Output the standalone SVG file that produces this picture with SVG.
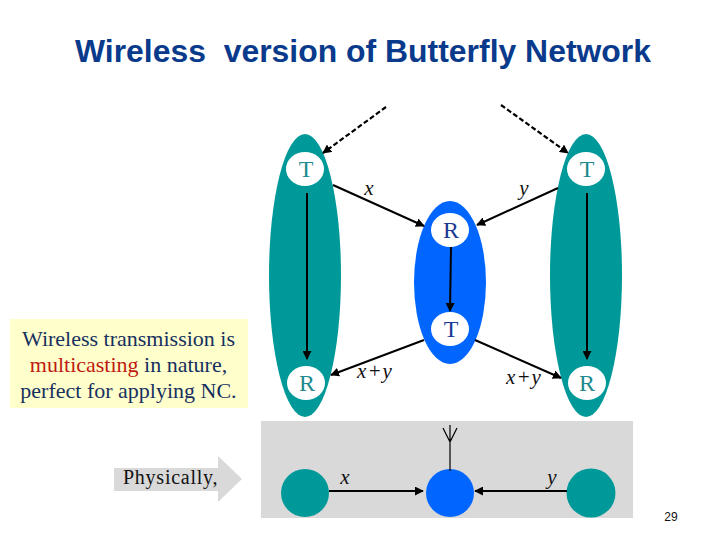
<svg xmlns="http://www.w3.org/2000/svg" width="720" height="540" viewBox="0 0 720 540">
<style>
.teal{fill:#009999}
.blue{fill:#0066ff}
.hole{fill:#fff}
.ser{font-family:"Liberation Serif","Times New Roman",serif}
.lab{font-size:24px;text-anchor:middle}
.tt{fill:#1f8a8f}
.tb{fill:#1a3a94}
.it{font-size:21px;font-style:italic;fill:#111;text-anchor:middle}
.c{stroke:#000;stroke-width:2;fill:none}
.d{stroke-width:2.2;stroke-dasharray:5 2.5}
.note{font-size:22px;fill:#17305f;text-anchor:middle}
</style>
<defs>
<marker id="a" viewBox="0 0 10 10" refX="9" refY="5" markerWidth="9" markerHeight="9" markerUnits="userSpaceOnUse" orient="auto"><path d="M0 0L10 5L0 10Z" fill="#000"/></marker>
</defs>
<rect width="720" height="540" fill="#fff"/>
<text x="363" y="62" font-family="'Liberation Sans',Arial,sans-serif" font-weight="bold" font-size="32" fill="#0a3a8c" text-anchor="middle" xml:space="preserve" textLength="576" lengthAdjust="spacingAndGlyphs">Wireless  version of Butterfly Network</text>
<g id="physical-bg"><rect x="261" y="421" width="372" height="97" fill="#d9d9d9"/></g>
<g id="note"><rect x="10" y="319" width="238" height="89" fill="#ffffcc"/>
<text class="ser note" x="128.500" y="346">Wireless transmission is</text>
<text class="ser note" x="128.500" y="372"><tspan fill="#bf1a10">multicasting</tspan> in nature,</text>
<text class="ser note" x="128.500" y="398">perfect for applying NC.</text></g>
<g id="physically"><path d="M114 468H218V456L242 479L218 502V491H114Z" fill="#d9d9d9"/>
<text class="ser" x="123" y="484" font-size="20" fill="#111" letter-spacing="0.75">Physically,</text></g>
<g id="left-group"><ellipse class="teal" cx="305" cy="275.5" rx="36" ry="141.5"/>
<ellipse class="hole" cx="305" cy="169" rx="19" ry="17"/><text class="ser lab tt" x="306" y="177">T</text>
<ellipse class="hole" cx="306" cy="383" rx="19" ry="17"/><text class="ser lab tt" x="307" y="391">R</text></g>
<g id="right-group"><ellipse class="teal" cx="586" cy="275.5" rx="36" ry="141.5"/>
<ellipse class="hole" cx="586" cy="169" rx="19" ry="17"/><text class="ser lab tt" x="587" y="177">T</text>
<ellipse class="hole" cx="587" cy="383" rx="19" ry="17"/><text class="ser lab tt" x="587" y="391">R</text></g>
<g id="mid-group"><ellipse class="blue" cx="450" cy="282.5" rx="36" ry="81.5"/>
<ellipse class="hole" cx="450" cy="230" rx="19" ry="17"/><text class="ser lab tb" x="451" y="238">R</text>
<ellipse class="hole" cx="450" cy="329" rx="19" ry="17"/><text class="ser lab tb" x="451" y="337">T</text></g>
<g id="bottom-left"><circle class="teal" cx="305" cy="493" r="24"/></g>
<g id="bottom-mid"><circle class="blue" cx="450" cy="493" r="24"/></g>
<g id="bottom-right"><circle class="teal" cx="591" cy="493" r="24.500"/></g>
<g id="connectors">
<path class="c d" d="M386 107L323 153" marker-end="url(#a)"/>
<path class="c d" d="M501 105L568 153" marker-end="url(#a)"/>
<path class="c" d="M333 185L424 226" marker-end="url(#a)"/>
<path class="c" d="M558 188L477 225" marker-end="url(#a)"/>
<path class="c" d="M307 193V359" marker-end="url(#a)"/>
<path class="c" d="M587 193V359" marker-end="url(#a)"/>
<path class="c" d="M451 247L450 311" marker-end="url(#a)"/>
<path class="c" d="M424 340L331 375" marker-end="url(#a)"/>
<path class="c" d="M475 340L561 378" marker-end="url(#a)"/>
<path class="c" d="M329 491H423" marker-end="url(#a)"/>
<path class="c" d="M567 491H475" marker-end="url(#a)"/>
<path d="M450 471V425M450 442L443 428M450 442L457 428" fill="none" stroke="#000" stroke-width="1.200"/>
</g>
<g id="labels">
<text class="ser it" x="369" y="195">x</text>
<text class="ser it" x="524" y="195">y</text>
<text class="ser it" x="375" y="378" letter-spacing="1">x+y</text>
<text class="ser it" x="524" y="384" letter-spacing="1">x+y</text>
<text class="ser it" x="345" y="484">x</text>
<text class="ser it" x="552" y="484">y</text>
</g>
<text x="671" y="521" font-family="'Liberation Sans',Arial,sans-serif" font-size="12" fill="#111" text-anchor="middle">29</text>
</svg>
